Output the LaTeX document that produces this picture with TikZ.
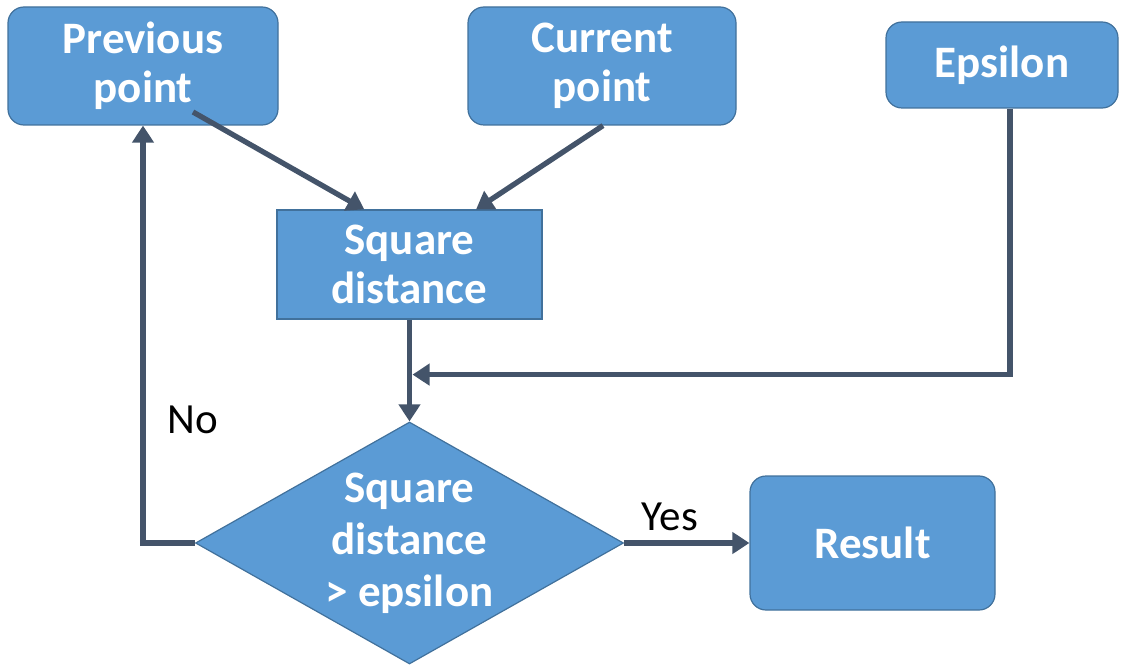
\documentclass[tikz,border=0pt]{standalone}
\usepackage{fontspec}
\setmainfont{Carlito}
\usetikzlibrary{arrows.meta,shapes.geometric,calc}
\definecolor{boxblue}{HTML}{5B9BD5}
\definecolor{boxedge}{HTML}{41719C}
\definecolor{flow}{HTML}{44546A}

\begin{document}
\begin{tikzpicture}[x=1pt,y=-1pt,
  box/.style={draw=boxedge, line width=1.2pt, fill=boxblue, text=white,
    font=\fontsize{45}{49}\selectfont\bfseries, align=center, inner sep=0pt},
  rbox/.style={box, rounded corners=16pt},
  link/.style={draw=flow, line width=5.3pt, -{Triangle[length=17pt,width=21pt]}},
  lbl/.style={font=\fontsize{43}{48}\selectfont, text=black}]

  \useasboundingbox (0,0) rectangle (1126,668);

  % inputs
  \node[rbox, minimum width=270pt, minimum height=118pt] (prev) at (143,66) {Previous\\point};
  \node[rbox, minimum width=268pt, minimum height=118pt] (cur) at (602,66) {Current\\point};
  \node[rbox, minimum width=232pt, minimum height=86pt, text depth=6pt] (eps) at (1002,65) {Epsilon};

  % processing
  \node[box, minimum width=265pt, minimum height=109pt] (sq) at (409.5,264.5) {Square\\distance};
  \node[box, shape=diamond, minimum width=428pt, minimum height=242pt] (dec) at (409.5,543) {};
  \node[align=center, text=white, font=\fontsize{45}{52}\selectfont\bfseries] (dectext) at (dec.center) {Square\\distance\\> epsilon};
  \node[rbox, minimum width=245pt, minimum height=134pt] (res) at (872.5,543) {Result};

  % connectors
  \coordinate (prevout) at (193,112);
  \draw[link] (prevout) -- ($(sq.north west)!0.33!(sq.north east)$);
  \draw[link] ($(cur.south)+(1,0)$) -- ($(sq.north west)!0.75!(sq.north east)$);
  \draw[link] (sq.south) -- (dec.north);

  \coordinate (epsout) at ($(eps.south)+(8,0)$);
  \coordinate (join) at ($(sq.south)+(3,55)$);
  \draw[link] (epsout) |- (join);

  \draw[link] (dec.west) -| (prev.south);
  \draw[link] (dec.east) -- (res.west);

  % branch labels
  \node[lbl] (no) at (193,420) {No};
  \node[lbl] (yes) at (670,517) {Yes};
\end{tikzpicture}
\end{document}
